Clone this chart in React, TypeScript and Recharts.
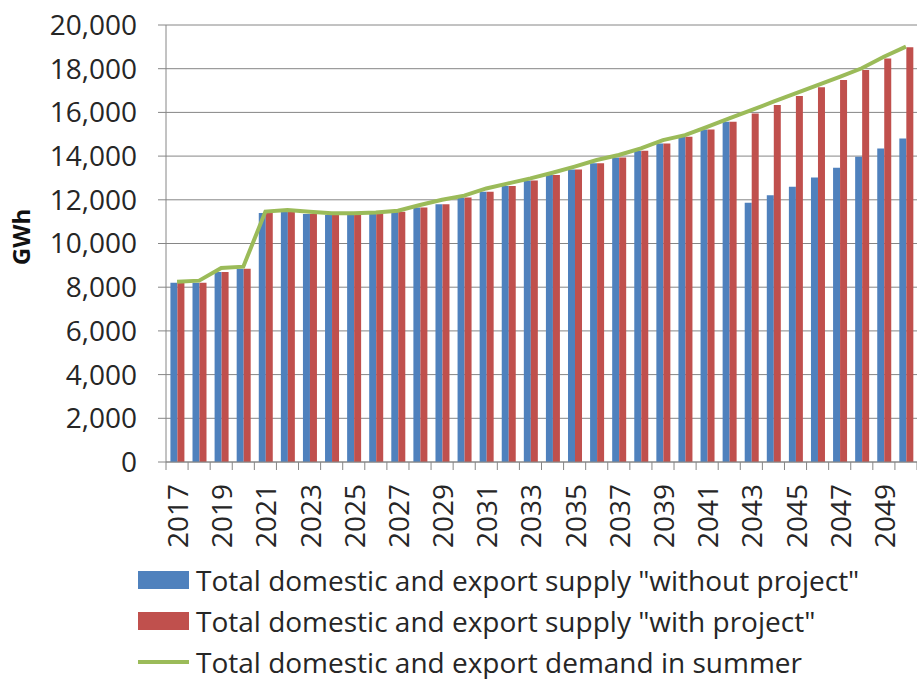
import {
  Bar,
  CartesianGrid,
  ComposedChart,
  Legend,
  Line,
  XAxis,
  YAxis,
} from "recharts";

const years = [
  2017, 2018, 2019, 2020, 2021, 2022, 2023, 2024, 2025, 2026, 2027, 2028,
  2029, 2030, 2031, 2032, 2033, 2034, 2035, 2036, 2037, 2038, 2039, 2040,
  2041, 2042, 2043, 2044, 2045, 2046, 2047, 2048, 2049, 2050,
];

const withoutProject = [
  8200, 8200, 8700, 8850, 11400, 11450, 11350, 11300, 11300, 11350, 11450,
  11650, 11800, 12100, 12370, 12630, 12880, 13130, 13390, 13670, 13940, 14250,
  14580, 14890, 15220, 15570, 11860, 12210, 12600, 13020, 13470, 13970, 14350,
  14810,
];

const withProject = [
  8200, 8200, 8700, 8850, 11400, 11450, 11350, 11300, 11300, 11350, 11450,
  11650, 11800, 12100, 12370, 12630, 12880, 13130, 13390, 13670, 13940, 14250,
  14580, 14890, 15220, 15570, 15950, 16340, 16750, 17150, 17480, 17940, 18470,
  18980,
];

const summerDemand = [
  8250, 8300, 8880, 8940, 11460, 11530, 11450, 11380, 11380, 11420, 11500,
  11760, 12000, 12190, 12520, 12750, 12980, 13240, 13520, 13820, 14050, 14350,
  14730, 14960, 15340, 15730, 16100, 16490, 16870, 17250, 17630, 18020, 18550,
  19010,
];

const yTicks = [0, 2000, 4000, 6000, 8000, 10000, 12000, 14000, 16000, 18000, 20000];

const seriesNames = {
  without: 'Total domestic and export supply "without project"',
  with: 'Total domestic and export supply "with project"',
  demand: "Total domestic and export demand in summer",
};

const BLUE = "#4f81bd";
const RED = "#c0504d";
const GREEN = "#9bbb59";
const GRID = "#868686";
const TEXT = "#262626";
const FONT = "'Open Sans', 'Noto Sans', sans-serif";

const data = years.map((y, i) => ({
  year: String(y),
  without: withoutProject[i],
  with: withProject[i],
  demand: summerDemand[i],
}));

function YearTick(props: any) {
  const { x, y, payload, index } = props;
  const half = payload?.offset ?? 0;
  return (
    <g>
      <line x1={x - half} y1={y - 8} x2={x - half} y2={y} stroke={GRID} />
      {index === years.length - 1 && (
        <line x1={x + half} y1={y - 8} x2={x + half} y2={y} stroke={GRID} />
      )}
      {index % 2 === 0 && (
        <text
          x={x}
          y={y + 14}
          transform={`rotate(-90, ${x}, ${y + 14})`}
          textAnchor="end"
          dominantBaseline="central"
          fill={TEXT}
          fontSize={28}
          fontFamily={FONT}
        >
          {payload.value}
        </text>
      )}
    </g>
  );
}

function UnitLabel() {
  return (
    <text
      x={20}
      y={237}
      transform="rotate(-90, 20, 237)"
      textAnchor="middle"
      dominantBaseline="central"
      fontWeight={700}
      fontSize={24}
      fill="#111"
      fontFamily={FONT}
    >
      GWh
    </text>
  );
}

function LegendRows() {
  const rows = [
    { key: "without", color: BLUE, kind: "rect" },
    { key: "with", color: RED, kind: "rect" },
    { key: "demand", color: GREEN, kind: "line" },
  ] as const;
  return (
    <div style={{ paddingLeft: 138, marginTop: -3, fontFamily: FONT }}>
      {rows.map((r) => (
        <div
          key={r.key}
          style={{ display: "flex", alignItems: "center", height: 41 }}
        >
          <div style={{ width: 51, height: 18, display: "flex", alignItems: "center" }}>
            {r.kind === "rect" ? (
              <div style={{ width: 51, height: 18, background: r.color }} />
            ) : (
              <div style={{ width: 51, height: 4, background: r.color }} />
            )}
          </div>
          <span
            style={{
              fontSize: 28,
              lineHeight: "34px",
              color: TEXT,
              marginLeft: 7,
              whiteSpace: "nowrap",
            }}
          >
            {seriesNames[r.key]}
          </span>
        </div>
      ))}
    </div>
  );
}

export default function App() {
  return (
    <div style={{ position: "absolute", left: 0, top: 0, background: "#fff" }}>
      <ComposedChart
        width={917}
        height={679}
        data={data}
        margin={{ top: 25, right: 0, left: 0, bottom: 0 }}
        barCategoryGap="20%"
        barGap={0}
      >
        <CartesianGrid stroke={GRID} vertical={false} />
        <XAxis
          dataKey="year"
          interval={0}
          height={100}
          tick={<YearTick />}
          tickLine={false}
          axisLine={{ stroke: GRID }}
        />
        <YAxis
          domain={[0, 20000]}
          ticks={yTicks}
          width={166}
          tickSize={8}
          tickMargin={21}
          tickLine={{ stroke: GRID }}
          axisLine={{ stroke: GRID }}
          tick={{ fill: TEXT, fontSize: 28, fontFamily: FONT }}
          tickFormatter={(v) => Number(v).toLocaleString("en-US")}
          label={<UnitLabel />}
        />
        <Legend
          verticalAlign="bottom"
          align="left"
          height={117}
          wrapperStyle={{ left: 0, width: 917, paddingTop: 0 }}
          content={() => <LegendRows />}
        />
        <Bar dataKey="without" name={seriesNames.without} fill={BLUE} isAnimationActive={false} />
        <Bar dataKey="with" name={seriesNames.with} fill={RED} isAnimationActive={false} />
        <Line
          type="linear"
          dataKey="demand"
          name={seriesNames.demand}
          stroke={GREEN}
          strokeWidth={4}
          dot={false}
          isAnimationActive={false}
        />
      </ComposedChart>
    </div>
  );
}
